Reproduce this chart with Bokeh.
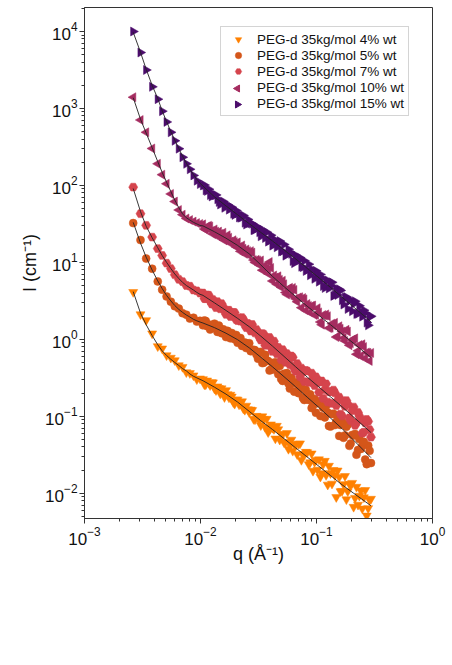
import math

from bokeh.embed import file_html
from bokeh.resources import INLINE
from bokeh.plotting import figure
from bokeh.models import Legend, LegendItem, FixedTicker

# ---- scattering data: q (1/Å) and I (1/cm) for each PEG-d concentration ----
q = [0.00263, 0.00304, 0.00340, 0.00383, 0.00428, 0.00467, 0.00510, 0.00555,
     0.00600, 0.00650, 0.00700, 0.00755, 0.00810, 0.00870, 0.00930, 0.00990,
     0.0105, 0.0111, 0.0118, 0.0125, 0.0132, 0.0140, 0.0148, 0.0157, 0.0166,
     0.0176, 0.0186, 0.0197, 0.0209, 0.0221, 0.0234, 0.0248, 0.0263, 0.0279,
     0.0295, 0.0313, 0.0331, 0.0351, 0.0372, 0.0394, 0.0417, 0.0442, 0.0468,
     0.0496, 0.0525, 0.0556, 0.0589, 0.0624, 0.0661, 0.0700, 0.0741, 0.0785,
     0.0832, 0.0881, 0.0933, 0.0989, 0.105, 0.111, 0.118, 0.125, 0.132, 0.140,
     0.148, 0.157, 0.166, 0.176, 0.186, 0.197, 0.209, 0.221, 0.234, 0.248,
     0.263, 0.279, 0.295]

I_4 = [4.11, 2.11, 1.77, 1.19, 0.811, 0.759, 0.619, 0.575, 0.533, 0.459, 0.437,
       0.372, 0.363, 0.339, 0.302, 0.309,
       0.303, 0.259, 0.272, 0.277, 0.229, 0.244, 0.197, 0.205, 0.218, 0.175,
       0.180, 0.145, 0.164, 0.147, 0.126, 0.137, 0.113, 0.120, 0.0910, 0.0979,
       0.0764, 0.0920, 0.0925, 0.0673, 0.0706, 0.0513, 0.0676, 0.0589, 0.0457,
       0.0603, 0.0427, 0.0355, 0.0427, 0.0438, 0.0270, 0.0324, 0.0340, 0.0252,
       0.0195, 0.0270, 0.0275, 0.0182, 0.0263, 0.0129, 0.0182, 0.0200, 0.00889,
       0.0162, 0.0107, 0.0167, 0.0106, 0.0129, 0.00664, 0.0121, 0.00927,
       0.00631, 0.0110, 0.00638, 0.00845]

I_5 = [32.4, 19.5, 11.2, 8.28, 5.66, 4.42, 3.61, 3.09, 2.69, 2.51, 2.19, 2.09,
       1.86, 1.91, 1.70, 1.74,
       1.52, 1.73, 1.56, 1.41, 1.60, 1.25, 1.37, 1.35, 1.07, 1.17, 1.21, 1.00,
       0.902, 1.04, 0.875, 0.769, 0.891, 0.708, 0.723, 0.560, 0.687, 0.497,
       0.531, 0.393, 0.493, 0.502, 0.353, 0.306, 0.358, 0.364, 0.229, 0.273,
       0.278, 0.200, 0.261, 0.163, 0.190, 0.193, 0.138, 0.111, 0.156, 0.158,
       0.0966, 0.112, 0.0736, 0.108, 0.0849, 0.0556, 0.0871, 0.0565, 0.0785,
       0.0444, 0.0561, 0.0317, 0.0506, 0.0413, 0.0274, 0.0417, 0.0247]

I_7 = [95.0, 42.9, 30.3, 21.3, 15.1, 12.3, 9.77, 8.32, 6.92, 6.03, 5.62, 5.01,
       4.90, 4.37, 4.27, 3.98,
       4.00, 3.37, 3.74, 2.88, 3.05, 3.09, 2.49, 2.64, 2.11, 2.39, 2.10, 2.23,
       1.75, 1.72, 1.82, 1.42, 1.52, 1.56, 1.21, 1.21, 0.977, 1.17, 0.904, 1.06,
       0.697, 0.813, 0.787, 0.540, 0.628, 0.653, 0.469, 0.585, 0.383, 0.417,
       0.423, 0.283, 0.388, 0.280, 0.305, 0.326, 0.205, 0.288, 0.222, 0.153,
       0.210, 0.219, 0.138, 0.177, 0.101, 0.135, 0.144, 0.0879, 0.132, 0.0826,
       0.101, 0.0603, 0.0824, 0.0857, 0.0536]

I_10 = [1400, 708, 490, 302, 191, 138, 105, 77.6, 61.7, 47.9, 41.7, 37.2, 35.5,
        33.9, 32.4, 31.6,
        31.2, 26.6, 29.9, 25.5, 26.8, 21.8, 23.3, 24.3, 19.6, 20.9, 17.3, 18.4,
        18.2, 13.9, 15.0, 14.7, 12.3, 13.4, 10.0, 10.6, 10.6, 7.94, 8.36, 10.1,
        5.73, 6.32, 6.59, 4.75, 5.19, 3.82, 4.68, 4.66, 3.36, 3.50, 2.58, 3.31,
        2.88, 2.24, 2.75, 2.09, 2.24, 1.55, 2.04, 2.00, 1.41, 1.51, 1.07, 1.48,
        1.26, 0.955, 1.26, 0.887, 0.995, 0.641, 0.843, 0.863, 0.569, 0.668,
        0.667]

I_15 = [10000, 5330, 3160, 1910, 1320, 923, 668, 490, 380, 300, 232, 191, 162,
        135, 115, 104,
        100, 86.3, 89.3, 71.8, 74.3, 66.1, 56.4, 61.9, 55.3, 48.4, 52.0, 41.4,
        43.5, 37.9, 40.7, 31.0, 32.5, 31.8, 26.5, 28.6, 21.8, 24.6, 24.7, 19.3,
        16.5, 19.5, 17.4, 13.8, 17.1, 12.7, 13.6, 10.4, 12.4, 10.6, 8.77, 10.5,
        7.98, 6.79, 7.96, 7.76, 5.61, 6.28, 4.65, 5.83, 4.95, 3.66, 4.59, 4.47,
        3.22, 3.52, 2.48, 3.25, 2.88, 2.13, 2.73, 1.97, 2.20, 1.52, 1.99]

# interleaved points of the high-q frames
q2 = [0.0108, 0.0114, 0.0121, 0.0128, 0.0136, 0.0144, 0.0152, 0.0161, 0.0171,
      0.0181, 0.0192, 0.0203, 0.0215, 0.0228, 0.0241, 0.0256, 0.0271, 0.0287,
      0.0304, 0.0322, 0.0341, 0.0361, 0.0383, 0.0405, 0.0430, 0.0455, 0.0482,
      0.0511, 0.0541, 0.0573, 0.0607, 0.0643, 0.0681, 0.0721, 0.0764, 0.0809,
      0.0857, 0.0908, 0.0962, 0.102, 0.108, 0.114, 0.121, 0.128, 0.136, 0.144,
      0.152, 0.161, 0.171, 0.181, 0.192, 0.203, 0.215, 0.228, 0.241, 0.256,
      0.271, 0.287]

I2_4 = [0.259, 0.291, 0.253, 0.275, 0.218, 0.232, 0.230, 0.177, 0.193, 0.190,
        0.152, 0.165, 0.142, 0.156, 0.121, 0.123, 0.122, 0.0920, 0.101, 0.0885,
        0.0995, 0.0724, 0.0619, 0.0782, 0.0682, 0.0750, 0.0495, 0.0582, 0.0462,
        0.0376, 0.0495, 0.0432, 0.0320, 0.0443, 0.0313, 0.0344, 0.0238, 0.0328,
        0.0255, 0.0202, 0.0164, 0.0237, 0.0172, 0.0227, 0.0133, 0.0171, 0.0197,
        0.0106, 0.0131, 0.00832, 0.0132, 0.0136, 0.00867, 0.00708, 0.0108,
        0.00883, 0.00511, 0.00815]

I2_5 = [1.76, 1.48, 1.34, 1.55, 1.40, 1.51, 1.20, 1.20, 1.29, 1.03, 1.12, 1.14,
        0.916, 0.822, 0.910, 0.877, 0.700, 0.731, 0.635, 0.679, 0.491, 0.631,
        0.524, 0.406, 0.405, 0.451, 0.449, 0.288, 0.321, 0.266, 0.318, 0.209,
        0.261, 0.231, 0.173, 0.221, 0.163, 0.128, 0.168, 0.148, 0.101, 0.129,
        0.137, 0.0748, 0.107, 0.0769, 0.103, 0.0771, 0.0526, 0.0729, 0.0413,
        0.0573, 0.0589, 0.0365, 0.0376, 0.0466, 0.0239, 0.0356]

I2_7 = [3.39, 3.77, 3.17, 3.29, 2.58, 2.87, 2.91, 2.33, 2.36, 1.98, 2.24, 1.80,
        1.90, 1.92, 1.54, 1.61, 1.28, 1.34, 1.34, 1.06, 1.19, 0.836, 1.00, 0.792,
        0.946, 0.650, 0.706, 0.733, 0.502, 0.573, 0.608, 0.417, 0.485, 0.326,
        0.379, 0.394, 0.277, 0.364, 0.251, 0.274, 0.279, 0.171, 0.264, 0.208,
        0.147, 0.202, 0.160, 0.107, 0.157, 0.160, 0.0955, 0.119, 0.0764, 0.112,
        0.0904, 0.0621, 0.0910, 0.0670]

I2_10 = [27.2, 29.2, 29.3, 23.3, 25.1, 25.1, 21.2, 19.3, 22.5, 18.6, 19.4,
         15.9, 15.7, 16.6, 12.9, 14.0, 14.0, 10.7, 10.8, 9.25, 7.93, 9.14, 7.14,
         8.45, 6.76, 5.19, 5.93, 5.77, 4.06, 4.53, 3.75, 4.39, 3.09, 3.53, 3.44,
         2.37, 2.72, 2.72, 2.07, 2.54, 1.68, 2.07, 2.11, 1.40, 1.60, 1.64, 1.09,
         1.37, 1.04, 1.33, 0.838, 0.984, 1.03, 0.710, 0.604, 0.794, 0.676,
         0.524]

I2_15 = [101, 84.9, 74.8, 77.4, 75.2, 61.1, 61.2, 51.1, 56.1, 51.4, 42.9, 47.1,
         38.4, 38.5, 32.8, 36.1, 32.2, 26.2, 28.9, 24.7, 26.6, 20.7, 18.6, 22.5,
         19.2, 15.7, 18.9, 14.0, 12.2, 14.8, 12.9, 9.77, 11.7, 11.5, 8.67, 7.73,
         9.48, 7.89, 6.11, 7.00, 6.98, 4.93, 5.78, 4.58, 5.50, 3.78, 3.77, 4.31,
         2.83, 3.55, 3.15, 2.32, 3.12, 2.15, 2.30, 2.39, 1.65, 1.97]

# ---- model fits ----
q_fit = [0.00263, 0.00304, 0.00340, 0.00383, 0.00428, 0.00467, 0.00510,
         0.00555, 0.00600, 0.00650, 0.00700, 0.00755, 0.00810, 0.00870,
         0.00930, 0.00990, 0.0105, 0.0132, 0.0166, 0.0209, 0.0263, 0.0331,
         0.0417, 0.0525, 0.0661, 0.0832, 0.105, 0.132, 0.166, 0.209, 0.263,
         0.295]

fit_4 = [4.17, 2.19, 1.55, 1.12, 0.851, 0.708, 0.617, 0.550, 0.501, 0.457,
         0.417, 0.389, 0.355, 0.331, 0.316, 0.302, 0.290, 0.239, 0.194, 0.153,
         0.116, 0.0877, 0.0675, 0.0513, 0.0389, 0.0296, 0.0224, 0.0170, 0.0129,
         0.0100, 0.00780, 0.00687]
fit_5 = [33.1, 17.8, 11.7, 7.94, 5.75, 4.57, 3.72, 3.16, 2.75, 2.45, 2.24, 2.07,
         1.95, 1.82, 1.74, 1.68, 1.63, 1.42, 1.20, 0.989, 0.776, 0.585, 0.440,
         0.327, 0.242, 0.177, 0.130, 0.0948, 0.0692, 0.0489, 0.0345, 0.0290]
fit_7 = [91.2, 45.7, 29.5, 20.9, 15.5, 12.3, 10.0, 8.32, 7.08, 6.17, 5.50, 5.01,
         4.68, 4.37, 4.07, 3.85, 3.73, 2.98, 2.37, 1.87, 1.46, 1.10, 0.818,
         0.600, 0.440, 0.323, 0.240, 0.179, 0.133, 0.0977, 0.0718, 0.0615]
fit_10 = [1380, 724, 479, 309, 204, 148, 110, 83.2, 64.6, 51.3, 42.7, 38.0,
          35.5, 33.1, 31.6, 30.2, 29.8, 25.0, 20.6, 16.6, 12.9, 9.27, 6.58,
          4.84, 3.60, 2.69, 2.04, 1.55, 1.17, 0.887, 0.668, 0.581]
fit_15 = [9770, 5370, 3240, 1995, 1350, 933, 676, 501, 389, 302, 240, 195, 162,
          138, 120, 107, 97.9, 71.0, 54.1, 41.5, 31.8, 24.5, 19.0, 14.5, 11.1,
          8.36, 6.30, 4.73, 3.53, 2.63, 1.96, 1.69]

labels = ["PEG-d 35kg/mol 4% wt", "PEG-d 35kg/mol 5% wt", "PEG-d 35kg/mol 7% wt",
          "PEG-d 35kg/mol 10% wt", "PEG-d 35kg/mol 15% wt"]
colors = ["#FF8000", "#D4561A", "#D5444C", "#A52C60", "#4B0C6B"]

x_ticks = [1e-3, 1e-2, 1e-1, 1.0]
y_ticks = [1e-2, 1e-1, 1.0, 1e1, 1e2, 1e3, 1e4]

FONT = "Liberation Sans"
X_RANGE = (1e-3, 1.0)
Y_RANGE = (4.7e-3, 2.05e4)
W, H = 452, 665
B_LEFT, B_RIGHT, B_TOP, B_BOTTOM = 84, 20, 7, 147

p = figure(width=W, height=H, x_axis_type="log", y_axis_type="log",
           x_range=X_RANGE, y_range=Y_RANGE,
           output_backend="svg", toolbar_location=None)
p.min_border_left = B_LEFT
p.min_border_right = B_RIGHT
p.min_border_top = B_TOP
p.min_border_bottom = B_BOTTOM
p.grid.visible = False
p.outline_line_color = "#333333"
p.outline_line_width = 1

x_minor = [m * 10.0 ** d for d in (-3, -2, -1) for m in range(2, 10)]
y_minor = [m * 10.0 ** d for d in range(-3, 5) for m in range(2, 10)]
p.xaxis.ticker = FixedTicker(ticks=x_ticks, minor_ticks=x_minor)
p.yaxis.ticker = FixedTicker(ticks=y_ticks, minor_ticks=y_minor)

for ax in (p.xaxis[0], p.yaxis[0]):
    ax.axis_line_color = "#333333"
    ax.major_tick_line_color = "#333333"
    ax.minor_tick_line_color = "#333333"
    ax.major_tick_out = 5
    ax.major_tick_in = 0
    ax.minor_tick_out = 3
    ax.minor_tick_in = 0
    ax.major_label_text_font = FONT
    ax.major_label_text_font_size = "17px"
    ax.major_label_text_color = "#111111"
    ax.axis_label_text_font = FONT
    ax.axis_label_text_font_size = "18px"
    ax.axis_label_text_font_style = "normal"
    ax.axis_label_text_color = "#111111"

p.xaxis.axis_label = "q (Å⁻¹)"
p.yaxis.axis_label = "I (cm⁻¹)"
p.xaxis.major_label_standoff = 3
p.yaxis.major_label_standoff = 2
p.xaxis.axis_label_standoff = -4
p.yaxis.axis_label_standoff = 2

series = [I_4, I_5, I_7, I_10, I_15]
series2 = [I2_4, I2_5, I2_7, I2_10, I2_15]
fits = [fit_4, fit_5, fit_7, fit_10, fit_15]
markers = ["inverted_triangle", "circle", "hex", "triangle", "triangle"]
angles = [0.0, 0.0, 0.0, math.pi / 2, -math.pi / 2]   # left / right pointing
sizes = [9, 8, 9, 9, 9]

renderers = []
for vals, vals2, col, mk, ang, sz in zip(series, series2, colors, markers,
                                         angles, sizes):
    r = p.scatter(q + q2, vals + vals2, marker=mk, size=sz, angle=ang,
                  fill_color=col, line_color=col, line_width=0.5)
    renderers.append(r)

for fv in fits:
    p.line(q_fit, fv, line_color="#222222", line_width=1, line_alpha=0.9)

# ---- legend ----
LEG_X, LEG_Y = 136, 402          # offset from the frame's lower-left corner
PAD, GLYPH_W, ROW_H = 4, 26, 16

legend_items = []
for i, (lab, r, ang) in enumerate(zip(labels, renderers, angles)):
    if ang == 0.0:
        legend_items.append(LegendItem(label=lab, renderers=[r]))
    else:
        # legend keys are never rotated, so these keys are drawn separately
        blank = p.scatter([], [], marker="triangle", fill_alpha=0, line_alpha=0)
        legend_items.append(LegendItem(label=lab, renderers=[blank]))

legend = Legend(items=legend_items, location=(LEG_X, LEG_Y))
legend.label_text_font = FONT
legend.label_text_font_size = "13.5px"
legend.label_text_color = "#111111"
legend.padding = PAD
legend.margin = 0
legend.spacing = 0
legend.glyph_width = GLYPH_W
legend.glyph_height = ROW_H
legend.label_height = ROW_H
legend.label_standoff = 6
legend.border_line_color = "#AAAAAA"
legend.border_line_width = 1
legend.background_fill_alpha = 0.0
p.add_layout(legend, "center")

# screen position of the rotated legend keys -> data coordinates
frame_w = W - B_LEFT - B_RIGHT
frame_h = H - B_TOP - B_BOTTOM
lx0, lx1 = math.log10(X_RANGE[0]), math.log10(X_RANGE[1])
ly0, ly1 = math.log10(Y_RANGE[0]), math.log10(Y_RANGE[1])
legend_h = 2 * PAD + ROW_H * len(labels)
key_px_x = LEG_X + PAD + GLYPH_W / 2
key_x = 10 ** (lx0 + (lx1 - lx0) * key_px_x / frame_w)
for i, (col, ang) in enumerate(zip(colors, angles)):
    if ang == 0.0:
        continue
    px_from_bottom = LEG_Y + legend_h - PAD - ROW_H * i - ROW_H / 2
    key_y = 10 ** (ly0 + (ly1 - ly0) * px_from_bottom / frame_h)
    p.scatter([key_x], [key_y], marker="triangle", size=7, angle=ang,
              fill_color=col, line_color=col)

open("out.html", "w").write(file_html(p, INLINE))
